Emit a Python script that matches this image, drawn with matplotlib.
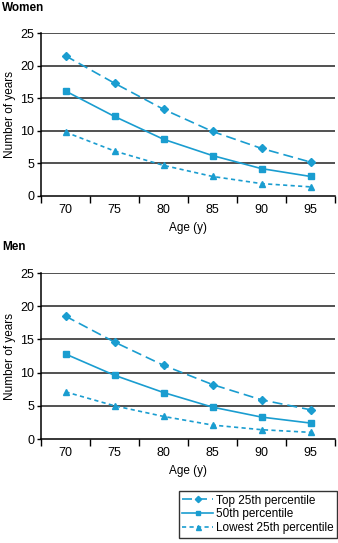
import numpy as np
import matplotlib.pyplot as plt
from matplotlib.ticker import FixedLocator

plt.rcParams['font.family'] = ['Liberation Sans', 'DejaVu Sans']

# datos
edades = ['70', '75', '80', '85', '90', '95']
mujeres_top = [21.5, 17.3, 13.3, 9.9, 7.3, 5.2]
mujeres_mid = [16.1, 12.2, 8.7, 6.2, 4.2, 3.0]
mujeres_low = [9.8, 6.9, 4.7, 3.0, 1.9, 1.4]
hombres_top = [18.5, 14.6, 11.1, 8.2, 5.9, 4.4]
hombres_mid = [12.8, 9.6, 7.0, 4.8, 3.3, 2.4]
hombres_low = [7.1, 5.0, 3.4, 2.1, 1.4, 1.0]
etiquetas = ['Top 25th percentile', '50th percentile', 'Lowest 25th percentile']

AZUL = '#1a9dd0'

fig = plt.figure(figsize=(3.38, 5.43), dpi=100)


def panel(rect, titulo, top, mid, low, y_titulo):
    ax = fig.add_axes(rect)
    x = np.arange(len(edades))
    ax.plot(x, top, color=AZUL, lw=1.2, dashes=(6, 3), marker='D', ms=4, label=etiquetas[0])
    ax.plot(x, mid, color=AZUL, lw=1.2, marker='s', ms=4, label=etiquetas[1])
    ax.plot(x, low, color=AZUL, lw=1.2, dashes=(2.5, 2), marker='^', ms=4.5, label=etiquetas[2])
    ax.set_xlim(-0.5, len(edades) - 0.5)
    ax.set_ylim(0, 25)
    ax.set_yticks([0, 5, 10, 15, 20, 25])
    ax.set_xticks(x)
    ax.set_xticklabels(edades)
    ax.xaxis.set_minor_locator(FixedLocator(np.arange(-0.5, len(edades), 1.0)))
    ax.tick_params(axis='x', which='major', length=0, labelsize=9, pad=6)
    ax.tick_params(axis='x', which='minor', length=5, width=1, direction='out')
    ax.tick_params(axis='y', length=3, width=1, labelsize=9, pad=2)
    for y in [5, 10, 15, 20, 25]:
        ax.axhline(y, color='#222222', lw=1.1, zorder=0)
    ax.spines['top'].set_visible(False)
    ax.spines['right'].set_visible(False)
    ax.spines['left'].set_linewidth(1.1)
    ax.spines['bottom'].set_linewidth(1.1)
    ax.set_xlabel('Age (y)', fontsize=8.5, labelpad=4)
    ax.set_ylabel('Number of years', fontsize=8.5, labelpad=3)
    fig.text(2 / 338, y_titulo, titulo, fontsize=8.5, fontweight='bold', va='center')
    return ax


ax1 = panel([41 / 338, 1 - 196 / 543, 294 / 338, 163 / 543], 'Women',
            mujeres_top, mujeres_mid, mujeres_low, 1 - 8 / 543)
ax2 = panel([41 / 338, 1 - 439 / 543, 294 / 338, 166 / 543], 'Men',
            hombres_top, hombres_mid, hombres_low, 1 - 247 / 543)

h, l = ax2.get_legend_handles_labels()
leg = fig.legend(h, l, loc='upper right', bbox_to_anchor=(337 / 338, 1 - 491 / 543),
                 fontsize=8.5, frameon=True, fancybox=False, handlelength=2.6,
                 handletextpad=0.25, borderpad=0.3, labelspacing=0.15, borderaxespad=0,
                 markerscale=0.8)
leg.get_frame().set_edgecolor('black')
leg.get_frame().set_linewidth(1.0)

fig.savefig('out.png', dpi=100)
